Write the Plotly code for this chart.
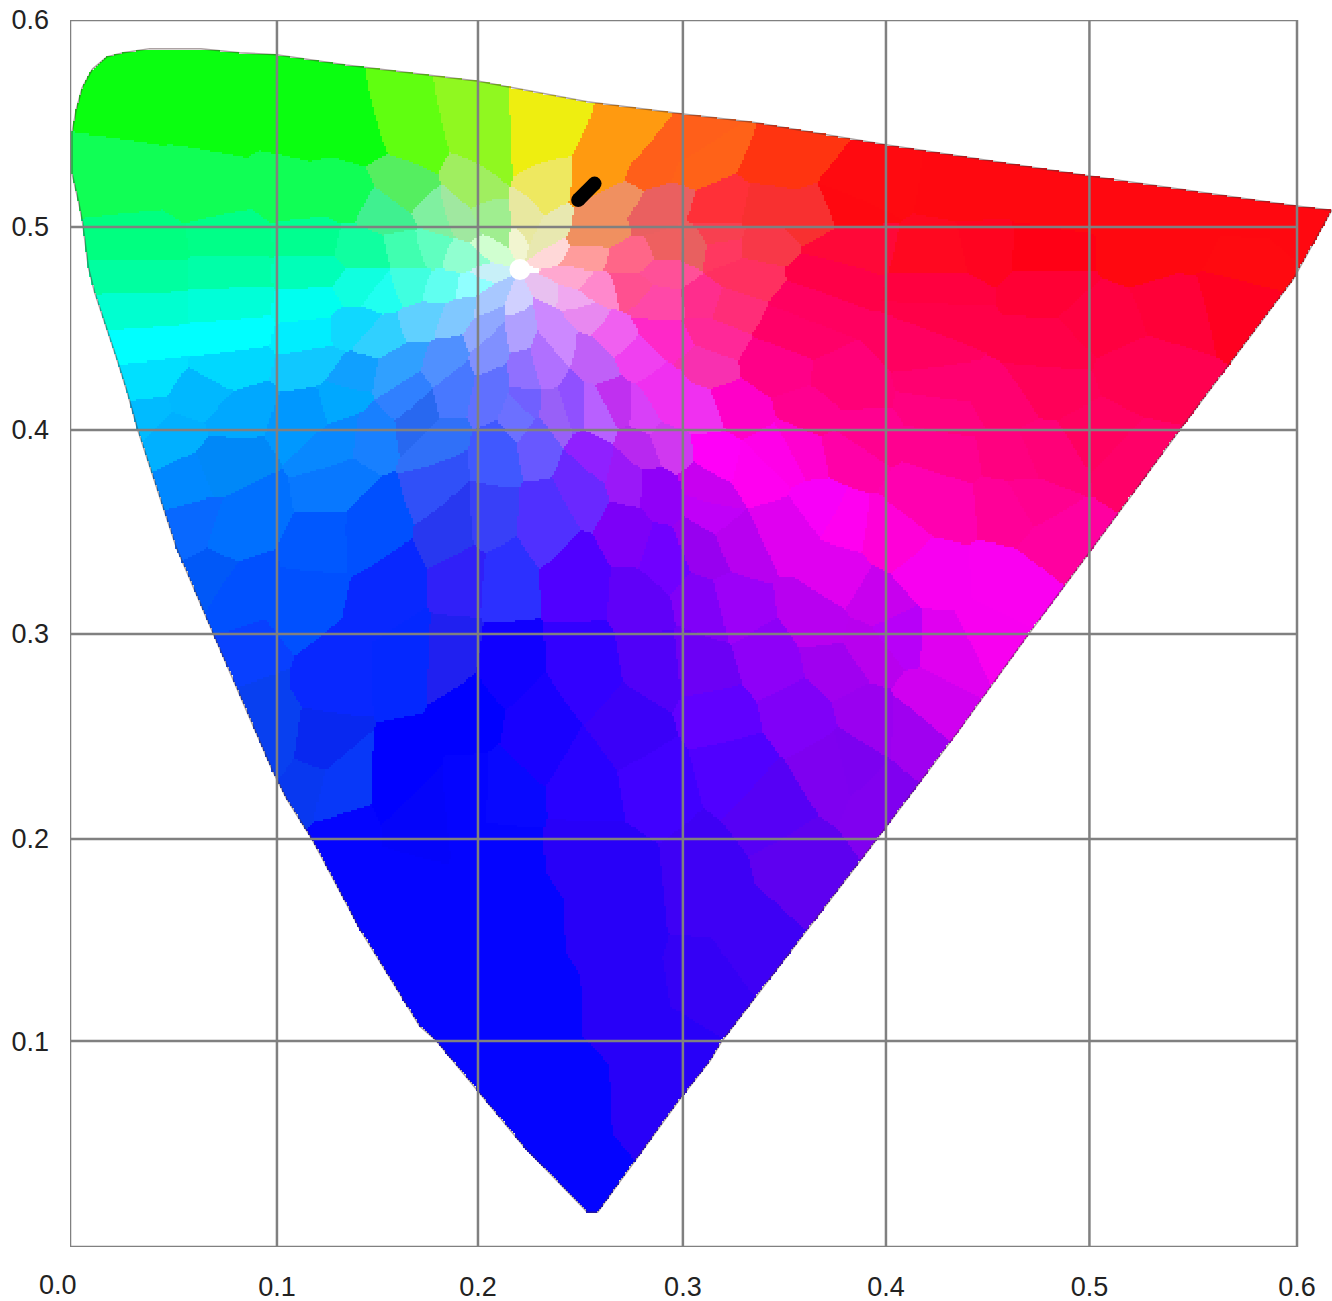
import numpy as np
import plotly.graph_objects as go

# chromaticity outline (u', v')
outline = [(0.617,0.507),(0.600,0.509),(0.497,0.524),(0.399,0.539),(0.334,0.550),(0.300,0.554),(0.253,0.560),(0.200,0.570),(0.135,0.578),(0.101,0.583),(0.083,0.584),(0.064,0.586),(0.039,0.586),(0.026,0.584),(0.018,0.582),(0.011,0.576),(0.006,0.567),(0.003,0.556),(0.001,0.545),(0.001,0.525),(0.004,0.512),(0.006,0.502),(0.009,0.479),(0.012,0.467),(0.023,0.434),(0.028,0.418),(0.033,0.400),(0.052,0.342),(0.070,0.300),(0.099,0.233),(0.106,0.219),(0.118,0.200),(0.142,0.155),(0.171,0.108),(0.179,0.101),(0.199,0.077),(0.222,0.049),(0.253,0.017),(0.258,0.017),(0.298,0.072),(0.313,0.091),(0.319,0.101),(0.395,0.200),(0.435,0.253),(0.469,0.300),(0.498,0.339),(0.543,0.400),(0.598,0.473)]
white_u = [0.220]
white_v = [0.478]
sample_u = [0.2485, 0.2565]
sample_v = [0.5120, 0.5200]

x_grid = [0.0, 0.1012, 0.1995, 0.2997, 0.399, 0.4985, 0.6]
y_grid = [0.0, 0.1007, 0.1995, 0.2998, 0.3995, 0.4988, 0.6]
x_labels = ["0.0", "0.1", "0.2", "0.3", "0.4", "0.5", "0.6"]
y_labels = ["0.0", "0.1", "0.2", "0.3", "0.4", "0.5", "0.6"]

# colour patches: (u', v', colour at that spot)
greens = [(.024,.563,"#0AFF10"),(.064,.558,"#0AFF10"),(.108,.554,"#0AFF10"),(.134,.551,"#0AFF10"),(.044,.576,"#0AFF10"),(.112,.573,"#0AFF10"),
 (.024,.522,"#10FF55"),(.064,.517,"#10FF55"),(.108,.514,"#10FF55"),(.134,.514,"#10FF55"),
 (.164,.549,"#60FF10"),(.164,.517,"#55EE60"),(.198,.548,"#90F820"),(.197,.517,"#A0EE60"),
 (.204,.504,"#A0EE90"),(.178,.506,"#80F0A0"),(.189,.504,"#A0E8A0"),(.207,.487,"#D0FFD0"),(.191,.484,"#90FFD0"),
 (.176,.488,"#60FFC0"),(.165,.488,"#40FFB0"),(.142,.488,"#10FFA0"),(.152,.506,"#40F090"),
 (.034,.490,"#00FF80"),(.034,.475,"#00FFA0"),(.034,.458,"#00FFD0"),
 (.078,.492,"#00FF88"),(.078,.477,"#00FFA8"),(.078,.461,"#00FFD8"),
 (.117,.492,"#00FF90"),(.117,.477,"#00FFB8")]
cyans = [(.034,.441,"#00FFFF"),(.034,.424,"#00E0FF"),(.078,.446,"#00FFFF"),(.078,.429,"#00D8FF"),(.117,.461,"#00FFF0"),(.117,.446,"#00EEFF"),(.117,.431,"#10C8FF"),
 (.142,.469,"#10FFE0"),(.165,.469,"#40FFE0"),(.181,.469,"#60FFF0"),(.196,.471,"#90FFFF"),(.153,.466,"#20FFF0"),
 (.137,.450,"#10D8FF"),(.152,.445,"#30D0FF"),(.171,.453,"#60D0FF"),(.189,.455,"#80C8FF"),(.202,.449,"#90A8FF"),
 (.205,.476,"#C8F0F8"),(.205,.462,"#A8C8FF"),(.219,.463,"#D0D0FF")]
blues = [(.137,.425,"#10A0FF"),(.160,.429,"#30A0FF"),(.182,.432,"#5090FF"),(.205,.437,"#8090FF"),(.205,.418,"#6070FF"),(.187,.418,"#4878FF"),(.165,.416,"#3080FF"),(.170,.406,"#2868F0"),
 (.049,.395,"#00B0FF"),(.033,.404,"#00BBFF"),(.065,.416,"#00B8FF"),(.082,.408,"#00A8FF"),(.114,.408,"#0098FF"),(.131,.416,"#00A8FF"),
 (.073,.383,"#0088F8"),(.057,.375,"#0088FF"),(.082,.351,"#0070FF"),(.057,.351,"#0868FF"),(.131,.391,"#0888FF"),(.131,.375,"#0878FF"),(.147,.395,"#1880FF"),
 (.179,.391,"#3070F8"),(.179,.375,"#3050F8"),(.187,.351,"#2838F0"),(.122,.342,"#0058FF"),(.147,.351,"#0050FF"),(.082,.318,"#0050FF"),(.065,.326,"#0058F8"),(.114,.318,"#0050FF"),
 (.155,.318,"#0828FF"),(.192,.326,"#3020F8"),(.082,.286,"#0840FF"),(.082,.261,"#0840F0"),(.131,.277,"#0828FF"),(.163,.286,"#0428FF"),(.187,.289,"#2020F0"),
 (.122,.245,"#0828F0"),(.098,.243,"#0840F0"),(.114,.225,"#0838F0"),(.131,.223,"#0838F8")]
deep_blues = [(.163,.228,"#0000FF"),(.196,.261,"#0000FF"),(.171,.212,"#0404FA"),(.161,.170,"#0404FF"),(.196,.121,"#0404FF"),(.210,.194,"#0404FF"),(.220,.155,"#0404FF"),(.230,.116,"#0404FF"),
 (.245,.072,"#0404FF"),(.254,.028,"#0404FF"),(.200,.082,"#0404FF"),(.196,.219,"#0404FF"),(.132,.199,"#0404FF"),(.212,.219,"#0808FF"),(.212,.284,"#1000FF"),(.228,.251,"#1800FF")]
indigos = [(.254,.194,"#2800F8"),(.264,.155,"#2800F8"),(.271,.116,"#2800F8"),(.284,.072,"#2800F8"),(.269,.179,"#2800F8"),(.308,.091,"#2800F8"),(.253,.222,"#2800FF"),(.253,.284,"#3200FF"),
 (.311,.179,"#3E00F5"),(.285,.227,"#4000FF"),(.275,.251,"#3A00F8"),(.316,.121,"#3400F5"),(.337,.145,"#3E00F5"),(.285,.287,"#5000F8"),
 (.310,.284,"#6C00F5"),(.318,.259,"#6000FF"),(.326,.235,"#5000FF"),(.357,.186,"#5E00F0"),(.342,.214,"#5600F5")]
violets = [(.373,.235,"#7E00F0"),(.358,.259,"#8000F8"),(.342,.287,"#8E00F8"),(.375,.284,"#A000F0"),(.383,.235,"#7C00F0"),(.391,.259,"#9A00F0"),(.391,.292,"#B800EE"),(.414,.251,"#A000F0"),(.422,.264,"#D000F0"),(.396,.219,"#8000F0"),
 (.209,.386,"#4058FF"),(.220,.406,"#6C70FF"),(.238,.408,"#9860F8"),(.258,.406,"#B860FF"),(.228,.393,"#6858FF"),(.256,.386,"#9020FF"),(.279,.391,"#B828F0"),
 (.205,.357,"#3840F8"),(.233,.354,"#5030FF"),(.251,.372,"#6A28FF"),(.272,.375,"#9A18F8"),(.287,.369,"#9000F8"),(.274,.349,"#7C00F8"),(.290,.337,"#7000FF"),(.248,.325,"#5000FF"),(.212,.325,"#2C30FF"),(.280,.313,"#6000F8"),
 (.313,.369,"#C800F0"),(.326,.344,"#B800F0"),(.310,.341,"#9800F0"),(.326,.313,"#9C00F8"),(.310,.313,"#8000F8"),(.367,.305,"#B800F0"),(.395,.313,"#C800EE"),(.404,.300,"#B800F8"),(.314,.359,"#C000F8")]
magentas = [(.280,.406,"#D840F8"),(.293,.411,"#F030F0"),(.307,.409,"#F030F0"),(.292,.393,"#D038F0"),(.334,.378,"#FF00F0"),(.318,.386,"#FF00F8"),(.375,.357,"#FF00F0"),(.358,.390,"#FF00D0"),(.351,.349,"#E000F0"),(.375,.328,"#E000F0"),
 (.347,.388,"#FF00E8"),(.380,.388,"#FF00A8"),(.372,.359,"#F800F8"),(.328,.409,"#FF00C8"),(.421,.330,"#F800F0"),(.461,.321,"#FA00F0"),(.404,.346,"#FF00D8"),(.429,.292,"#E000F0"),(.453,.297,"#F800F0"),(.421,.364,"#FF00B0"),(.425,.367,"#FF00B0"),
 (.292,.421,"#F030F0"),(.269,.411,"#C030F0"),(.246,.411,"#9050FF"),(.223,.414,"#7060FF"),(.223,.425,"#9070FF"),(.279,.434,"#F040F0"),(.256,.434,"#C060F8"),(.233,.430,"#B070FF"),(.266,.445,"#F060F0"),(.253,.455,"#E888F0"),(.240,.445,"#CC88FF"),(.220,.449,"#B0A0FF"),(.246,.463,"#F0A8F0"),(.233,.469,"#E8C0F0")]
pinks = [(.388,.398,"#FF0090"),(.363,.408,"#FF0090"),(.429,.408,"#FF0080"),(.429,.388,"#FF0090"),(.478,.388,"#FF0078"),(.469,.364,"#FF0090"),(.461,.386,"#FF0080"),(.518,.386,"#FF0068"),(.461,.362,"#FF0098"),(.486,.346,"#FF00A0"),
 (.347,.429,"#FF0088"),(.380,.421,"#FF0078"),(.429,.421,"#FF0070"),(.478,.421,"#FF0058"),(.310,.432,"#F830B0"),(.314,.445,"#FF2898"),(.356,.448,"#FF0068"),(.421,.440,"#FF0060"),(.478,.440,"#FF0048"),(.504,.395,"#FF0060"),(.455,.414,"#FF0070"),(.527,.427,"#FF0050"),
 (.323,.460,"#FF2D78"),(.363,.460,"#FF0060"),(.429,.453,"#FF0048"),(.543,.460,"#FF0038"),(.504,.453,"#FF0040"),(.311,.463,"#FF2D8D"),(.289,.463,"#FF48A8"),(.295,.443,"#FF28C8"),(.275,.469,"#FF5090"),(.259,.469,"#FF88CC"),(.292,.476,"#FF5098"),(.246,.474,"#FFA8D0"),(.234,.484,"#FFD8D8"),(.253,.484,"#FF9C9C"),(.275,.484,"#FF6688")]
reds = [(.352,.532,"#FF3410"),(.388,.518,"#FF0A10"),(.445,.518,"#FF0810"),(.486,.511,"#FF0810"),(.339,.507,"#F83030"),(.363,.504,"#F83030"),(.380,.509,"#FF0810"),(.339,.491,"#F83848"),(.318,.494,"#F84050"),(.304,.489,"#E86060"),(.380,.489,"#FF0838"),(.445,.486,"#FF0420"),(.478,.486,"#FF0015"),
 (.331,.474,"#FF3060"),(.372,.474,"#FF0048"),(.429,.469,"#FF0040"),(.478,.469,"#FF0035"),(.527,.488,"#FF0810"),(.576,.483,"#FF0A10"),(.601,.500,"#FF0810"),(.543,.492,"#FF0810"),(.528,.512,"#FF0810"),(.577,.505,"#FF0810"),(.567,.463,"#FF0020"),(.429,.484,"#FF0820")]
oranges = [(.274,.541,"#FF9A10"),(.264,.530,"#FF9A10"),(.266,.509,"#F09060"),(.288,.507,"#EA6060"),(.295,.489,"#EE6060"),(.261,.496,"#F09060"),(.287,.532,"#FF5F1A"),(.308,.540,"#FF5F1A"),(.311,.535,"#FF6218"),(.319,.489,"#FF3860"),(.321,.507,"#FF3038")]
yellows = [(.232,.548,"#EEEE10"),(.232,.517,"#EEE860"),(.225,.503,"#E8E8A0"),(.233,.496,"#E8E8B0"),(.220,.488,"#F2F5D0"),(.220,.478,"#FFFFFF")]

patches = greens + cyans + blues + deep_blues + indigos + violets + magentas + pinks + reds + oranges + yellows
palette = sorted({p[2] for p in patches})
seed_u = np.array([p[0] for p in patches])
seed_v = np.array([p[1] for p in patches])
seed_i = np.array([palette.index(p[2]) for p in patches])

grid_u = np.arange(0.0, 0.6175, 0.001)
grid_v = np.arange(0.0, 0.6005, 0.001)
uu, vv = np.meshgrid(grid_u, grid_v)


def polar(u, v):
    """Angle about the white point and log distance from it: the patches are cells in these terms."""
    du, dv = u - white_u[0], v - white_v[0]
    return np.arctan2(dv, du), np.log(np.hypot(du, dv) + 0.012)


seed_t, seed_r = polar(seed_u, seed_v)
cell_t, cell_r = polar(uu, vv)
z = np.zeros(uu.shape)
for row in range(uu.shape[0]):
    dt = np.abs(cell_t[row, :, None] - seed_t)
    dt = np.minimum(dt, 2 * np.pi - dt)
    dr = cell_r[row, :, None] - seed_r
    z[row] = seed_i[np.argmin((1.3 * dt) ** 2 + dr ** 2, axis=1)]

# keep only the cells inside the outline
ou = np.array([p[0] for p in outline])
ov = np.array([p[1] for p in outline])
inside = np.zeros(uu.shape, dtype=bool)
for a in range(len(ou)):
    b = (a + 1) % len(ou)
    crosses = (ov[a] > vv) != (ov[b] > vv)
    with np.errstate(divide="ignore", invalid="ignore"):
        at = ou[a] + (vv - ov[a]) * (ou[b] - ou[a]) / (ov[b] - ov[a])
    inside ^= crosses & (uu < at)
z[~inside] = np.nan

n = len(palette)
scale = [[i / (n - 1), c] for i, c in enumerate(palette)]

fig = go.Figure()
fig.add_trace(go.Heatmap(x=grid_u, y=grid_v, z=z, zmin=0, zmax=n - 1, colorscale=scale, showscale=False,
                         zsmooth=False, hoverinfo="skip"))
loop_u = [p[0] for p in outline] + [outline[0][0]]
loop_v = [p[1] for p in outline] + [outline[0][1]]
fig.add_trace(go.Scatter(x=loop_u, y=loop_v, mode="lines", line=dict(color="rgba(70,50,50,0.45)", width=1.5),
                         hoverinfo="skip", showlegend=False))

# grid and frame
gx, gy = [], []
for v in y_grid:
    gx += [x_grid[0], x_grid[-1], None]
    gy += [v, v, None]
for u in x_grid:
    gx += [u, u, None]
    gy += [y_grid[0], y_grid[-1], None]
fig.add_trace(go.Scatter(x=gx, y=gy, mode="lines", line=dict(color="#808080", width=2.5),
                         cliponaxis=False, hoverinfo="skip", showlegend=False))

fig.add_trace(go.Scatter(x=white_u, y=white_v, mode="markers", marker=dict(color="#FFFFFF", size=21),
                         hoverinfo="skip", showlegend=False))
fig.add_trace(go.Scatter(x=sample_u, y=sample_v, mode="lines+markers", line=dict(color="#000000", width=14),
                         marker=dict(color="#000000", size=14), hoverinfo="skip", showlegend=False))

font = dict(family="Liberation Sans", size=27, color="#222222")
fig.update_layout(
    width=1332, height=1301, autosize=False,
    margin=dict(l=70, r=0, t=20, b=54, pad=0),
    paper_bgcolor="#FFFFFF", plot_bgcolor="#FFFFFF", showlegend=False,
    xaxis=dict(range=[0, 1262 / 2045], showgrid=False, zeroline=False, showline=False, ticks="",
               tickmode="array", tickvals=x_grid[1:], ticktext=x_labels[1:], tickfont=font,
               tickangle=0, ticklabelstandoff=21, automargin=False),
    yaxis=dict(range=[0, 0.6], showgrid=False, zeroline=False, showline=False, ticks="",
               tickmode="array", tickvals=y_grid[1:], ticktext=y_labels[1:], tickfont=font,
               ticklabelstandoff=20, automargin=False),
    annotations=[dict(text=x_labels[0], x=-12 / 1262, y=0, xref="paper", yref="paper", xanchor="center", yanchor="top",
                      yshift=-21, showarrow=False, font=font)],
)
fig.write_html("out.html", config=dict(displayModeBar=False),
               post_script="document.body.style.margin='0';document.body.style.overflow='hidden';")
